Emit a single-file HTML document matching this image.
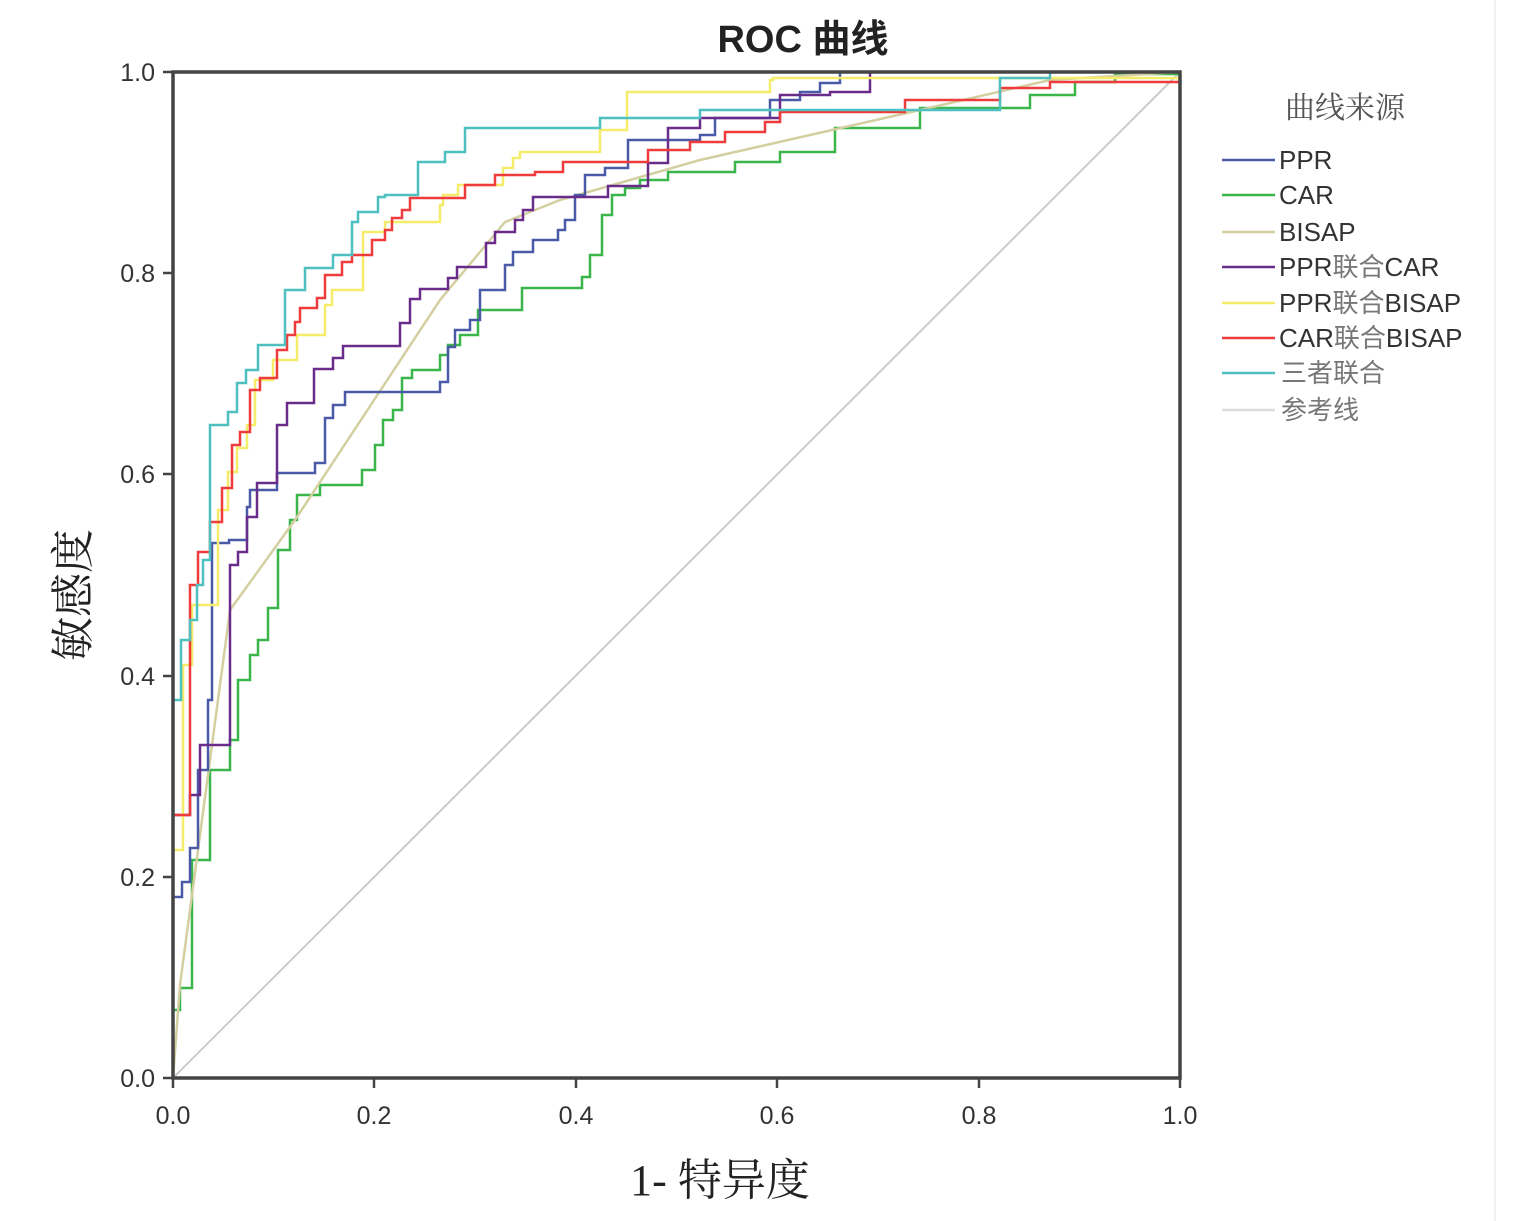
<!DOCTYPE html>
<html><head><meta charset="utf-8"><style>
body{margin:0;background:#fff;}
svg{display:block;}
</style></head><body>
<svg width="1513" height="1221" xmlns="http://www.w3.org/2000/svg">
<rect width="1513" height="1221" fill="#fff"/>
<line x1="1495" y1="0" x2="1495" y2="1221" stroke="#f2f2f2" stroke-width="2"/>
<text x="803" y="52" text-anchor="middle" font-family="Liberation Sans, Noto Sans CJK SC, sans-serif" font-weight="bold" font-size="38" fill="#222">ROC 曲线</text>
<line x1="173" y1="1078" x2="1180" y2="72" stroke="#ccc" stroke-width="2"/>
<g fill="none" stroke-width="2.5" stroke-linejoin="miter">
<path stroke="#3ab54a" d="M173,1078 V1010 H180 V988 H192 V860 H210 V770 H230 V740 H238 V680 H250 V655 H258 V640 H268 V608 H278 V550 H290 V520 H297 V495 H320 V485 H362 V470 H375 V445 H383 V420 H393 V410 H402 V378 H412 V370 H440 V355 H448 V345 H460 V335 H478 V310 H522 V288 H582 V277 H590 V255 H602 V215 H612 V195 H625 V188 H640 V180 H668 V172 H735 V162 H780 V152 H835 V128 H920 V108 H1030 V95 H1075 V82 H1115 V74 H1180 V72"/>
<path stroke="#d4cfa0" d="M173,1078 L180,985 L230,610 L295,520 L440,300 L505,222 L560,200 L700,160 L920,110 L1050,80 L1180,72"/>
<path stroke="#4a5aa8" d="M173,1078 V897 H182 V882 H190 V848 H198 V770 H208 V700 H212 V543 H229 V540 H247 V507 H250 V490 H277 V473 H315 V463 H325 V418 H333 V405 H345 V392 H440 V382 H448 V347 H455 V330 H470 V320 H480 V290 H505 V265 H513 V252 H533 V240 H558 V230 H565 V220 H575 V195 H585 V175 H605 V168 H628 V140 H700 V135 H715 V118 H770 V100 H800 V92 H820 V83 H840 V72 H1180"/>
<path stroke="#6a2c8a" d="M173,1078 V815 H190 V795 H200 V745 H230 V565 H238 V552 H247 V517 H257 V483 H277 V425 H287 V403 H314 V369 H333 V358 H343 V346 H400 V323 H410 V299 H420 V289 H448 V278 H457 V267 H486 V243 H495 V232 H515 V220 H523 V210 H533 V197 H608 V186 H648 V163 H668 V128 H700 V118 H780 V95 H830 V92 H870 V72 H1180"/>
<path stroke="#f5ec6a" d="M173,1078 V850 H183 V665 H192 V605 H218 V510 H228 V472 H237 V448 H247 V425 H255 V380 H273 V360 H297 V335 H325 V305 H332 V290 H363 V232 H385 V222 H440 V205 H443 V195 H458 V185 H503 V168 H513 V158 H520 V152 H600 V130 H627 V92 H770 V80 H773 V78 H1180 V72"/>
<path stroke="#ee3b3b" d="M173,1078 V815 H190 V585 H198 V552 H210 V522 H222 V488 H232 V445 H240 V432 H250 V390 H260 V378 H277 V350 H287 V335 H295 V322 H300 V308 H317 V298 H325 V275 H342 V262 H352 V255 H372 V240 H385 V230 H392 V218 H402 V210 H410 V198 H465 V185 H495 V175 H535 V172 H563 V162 H648 V150 H690 V142 H725 V132 H765 V122 H780 V112 H905 V100 H1000 V88 H1050 V82 H1180 V72"/>
<path stroke="#4fc0c0" d="M173,1078 V700 H181 V640 H190 V620 H197 V585 H203 V560 H210 V425 H228 V412 H237 V383 H246 V370 H258 V345 H285 V290 H305 V268 H333 V255 H352 V222 H358 V212 H378 V197 H385 V195 H418 V162 H445 V152 H465 V128 H600 V118 H700 V110 H1000 V78 H1050 V72 H1180"/>
</g>
<rect x="173" y="72" width="1007" height="1006" fill="none" stroke="#444" stroke-width="3.5"/>
<g stroke="#444" stroke-width="2.5">
<line x1="163" y1="1078" x2="173" y2="1078"/><line x1="163" y1="877" x2="173" y2="877"/><line x1="163" y1="676" x2="173" y2="676"/><line x1="163" y1="474" x2="173" y2="474"/><line x1="163" y1="273" x2="173" y2="273"/><line x1="163" y1="72" x2="173" y2="72"/>
<line x1="173" y1="1078" x2="173" y2="1088"/><line x1="374" y1="1078" x2="374" y2="1088"/><line x1="576" y1="1078" x2="576" y2="1088"/><line x1="777" y1="1078" x2="777" y2="1088"/><line x1="979" y1="1078" x2="979" y2="1088"/><line x1="1180" y1="1078" x2="1180" y2="1088"/>
</g>
<g font-family="Liberation Sans, sans-serif" font-size="25" fill="#333" text-anchor="end">
<text x="155" y="1087">0.0</text><text x="155" y="886">0.2</text><text x="155" y="685">0.4</text><text x="155" y="483">0.6</text><text x="155" y="282">0.8</text><text x="155" y="81">1.0</text>
</g>
<g font-family="Liberation Sans, sans-serif" font-size="25" fill="#333" text-anchor="middle">
<text x="173" y="1124">0.0</text><text x="374" y="1124">0.2</text><text x="576" y="1124">0.4</text><text x="777" y="1124">0.6</text><text x="979" y="1124">0.8</text><text x="1180" y="1124">1.0</text>
</g>
<text x="720" y="1195" text-anchor="middle" font-family="Liberation Serif, Noto Serif CJK SC, serif" font-size="44" fill="#222">1- 特异度</text>
<text transform="translate(88,595) rotate(-90)" text-anchor="middle" font-family="Liberation Serif, Noto Serif CJK SC, serif" font-size="44" fill="#222">敏感度</text>
<text x="1285" y="118" font-family="Liberation Serif, Noto Serif CJK SC, serif" font-size="30" fill="#555">曲线来源</text>
<g stroke-width="2.5">
<line x1="1222" y1="160" x2="1275" y2="160" stroke="#4a5aa8"/>
<line x1="1222" y1="195" x2="1275" y2="195" stroke="#3ab54a"/>
<line x1="1222" y1="232" x2="1275" y2="232" stroke="#d4cfa0"/>
<line x1="1222" y1="267" x2="1275" y2="267" stroke="#6a2c8a"/>
<line x1="1222" y1="303" x2="1275" y2="303" stroke="#f5ec6a"/>
<line x1="1222" y1="338" x2="1275" y2="338" stroke="#ee3b3b"/>
<line x1="1222" y1="373" x2="1275" y2="373" stroke="#4fc0c0"/>
<line x1="1222" y1="410" x2="1275" y2="410" stroke="#ddd"/>
</g>
<g font-family="Liberation Sans, Noto Sans CJK SC, sans-serif" font-size="26" fill="#333">
<text x="1279" y="169">PPR</text><text x="1279" y="204">CAR</text><text x="1279" y="241">BISAP</text>
<text x="1279" y="276">PPR<tspan fill="#777">联合</tspan>CAR</text>
<text x="1279" y="312">PPR<tspan fill="#777">联合</tspan>BISAP</text>
<text x="1279" y="347">CAR<tspan fill="#777">联合</tspan>BISAP</text>
<text x="1281" y="382" fill="#777">三者联合</text>
<text x="1281" y="419" fill="#777">参考线</text>
</g>
</svg>
</body></html>
